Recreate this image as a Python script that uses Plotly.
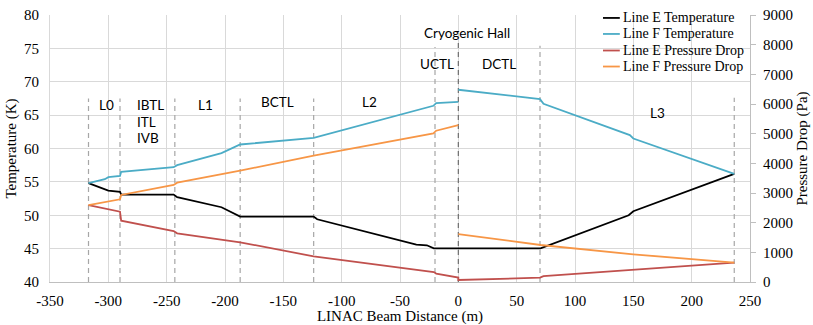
import plotly.graph_objects as go

# ---- data ----
e_temp_x = [-317, -304, -300, -290, -289, -244, -241, -203, -187, -124, -121, -36, -27, -21, 0, 70.5, 146, 150, 236.5]
e_temp_y = [54.8, 54.0, 53.7, 53.5, 53.1, 53.1, 52.7, 51.2, 49.8, 49.8, 49.4, 45.6, 45.5, 45.05, 45.05, 45.05, 50.0, 50.6, 56.2]

f_temp_x = [-317, -303, -300, -290, -289, -244, -241, -203, -187, -124, -21.4, -19, 0, None, 0, 70, 73, 147, 150, 236.5]
f_temp_y = [54.8, 55.4, 55.7, 55.9, 56.5, 57.2, 57.5, 59.3, 60.6, 61.6, 66.4, 66.8, 67.0, None, 68.8, 67.4, 66.7, 62.0, 61.5, 56.2]

e_pd_x = [-317, -290, -289, -244, -241, -187, -124, -21, -19, 0, 0, 70, 73, 150, 236.5]
e_pd_y = [2590, 2370, 2067, 1719, 1641, 1338, 865, 335, 285, 150, 67, 145, 195, 404, 652]

f_pd_x = [-317, -290, -289, -244, -241, -187, -124, -21.4, -19, 0, None, 0, 70.5, 150, 236.5]
f_pd_y = [2590, 2787, 2933, 3270, 3347, 3752, 4260, 5012, 5100, 5285, None, 1615, 1247, 933, 652]

section_x = [-317, -290, -243, -187, -124, -20, 0, 70, 236.5]
section_top = [67.5, 67.5, 67.5, 67.5, 67.5, 75.2, 76.0, 75.4, 67.6]

labels = ["L0", "IBTL", "ITL", "IVB", "L1", "BCTL", "L2", "UCTL", "Cryogenic Hall", "DCTL", "L3"]
label_x = [-302, -277, -277, -277, -217, -155, -76, -18, 7, 35, 171]
label_y = [66.5, 66.5, 63.9, 61.5, 66.5, 66.9, 66.9, 72.7, 77.3, 72.6, 65.3]
label_anchor = ["center", "left", "left", "left", "center", "center", "center", "center", "center", "center", "center"]

x_ticks = [-350, -300, -250, -200, -150, -100, -50, 0, 50, 100, 150, 200, 250]
x_tick_text = ["-350", "-300", "-250", "-200", "-150", "-100", "-50", "0", "50", "100", "150", "200", "250"]

series_names = ["Line E Temperature", "Line F Temperature", "Line E Pressure Drop", "Line F Pressure Drop"]
series_colors = ["#000000", "#4bacc6", "#c0504d", "#f79646"]

serif = "Times New Roman, Liberation Serif, DejaVu Serif, serif"

fig = go.Figure()
fig.add_trace(go.Scatter(x=e_temp_x, y=e_temp_y, mode="lines", name=series_names[0],
                         line=dict(color=series_colors[0], width=1.8), yaxis="y"))
fig.add_trace(go.Scatter(x=f_temp_x, y=f_temp_y, mode="lines", name=series_names[1],
                         line=dict(color=series_colors[1], width=1.8), yaxis="y", connectgaps=False))
fig.add_trace(go.Scatter(x=e_pd_x, y=e_pd_y, mode="lines", name=series_names[2],
                         line=dict(color=series_colors[2], width=1.8), yaxis="y2"))
fig.add_trace(go.Scatter(x=f_pd_x, y=f_pd_y, mode="lines", name=series_names[3],
                         line=dict(color=series_colors[3], width=1.8), yaxis="y2", connectgaps=False))

for sx, st in zip(section_x, section_top):
    fig.add_shape(type="line", xref="x", yref="y", x0=sx, x1=sx, y0=40, y1=st,
                  line=dict(color="#6e6e6e" if sx == 0 else "#a6a6a6", width=1.2, dash="5px,4px"),
                  layer="between")

for t, lx, ly, anc in zip(labels, label_x, label_y, label_anchor):
    fig.add_annotation(x=lx, y=ly, xref="x", yref="y", text=t, showarrow=False,
                       xanchor=anc, yanchor="middle", align="left",
                       font=dict(family="Lato, sans-serif", size=13.5, color="#000000"))

# legend (drawn manually to match the compact spacing)
fig.add_shape(type="rect", xref="paper", yref="paper", x0=0.786, x1=0.998, y0=0.775, y1=0.998,
              fillcolor="white", line=dict(width=0), layer="between")
leg_y = [0.989, 0.929, 0.867, 0.807]
for name, col, ly in zip(series_names, series_colors, leg_y):
    fig.add_shape(type="line", xref="paper", yref="paper", x0=0.79, x1=0.814, y0=ly, y1=ly,
                  line=dict(color=col, width=1.8))
    fig.add_annotation(x=0.815, y=ly, xref="paper", yref="paper", text=name, showarrow=False,
                       xanchor="left", yanchor="middle",
                       font=dict(family=serif, size=14, color="#000000"))

fig.update_layout(
    width=813, height=325,
    margin=dict(l=50, r=63, t=15, b=43, autoexpand=False),
    paper_bgcolor="white", plot_bgcolor="white",
    font=dict(family=serif, size=15, color="#000000"),
    showlegend=False,
    xaxis=dict(range=[-350, 250], tickvals=x_ticks, ticktext=x_tick_text, showgrid=True,
               gridcolor="#d9d9d9", gridwidth=1, zeroline=False, showline=True,
               linecolor="#bfbfbf", ticks="", ticklabelstandoff=5,
               title=dict(text="LINAC Beam Distance (m)", standoff=0, font=dict(size=15))),
    yaxis=dict(range=[40, 80], dtick=5, showgrid=True, gridcolor="#d9d9d9", gridwidth=1,
               zeroline=False, showline=True, linecolor="#d9d9d9", ticks="",
               ticklabelstandoff=7,
               title=dict(text="Temperature (K)", standoff=3, font=dict(size=15))),
    yaxis2=dict(range=[0, 9000], dtick=1000, overlaying="y", side="right", showgrid=False,
                zeroline=False, showline=True, linecolor="#bfbfbf", ticks="outside",
                ticklen=5, tickcolor="#bfbfbf", ticklabelstandoff=4,
                title=dict(text="Pressure Drop (Pa)", standoff=4, font=dict(size=15))),
)

fig.write_html("out.html", config={"displayModeBar": False},
               post_script="document.body.style.margin='0';document.body.style.overflow='hidden';")
